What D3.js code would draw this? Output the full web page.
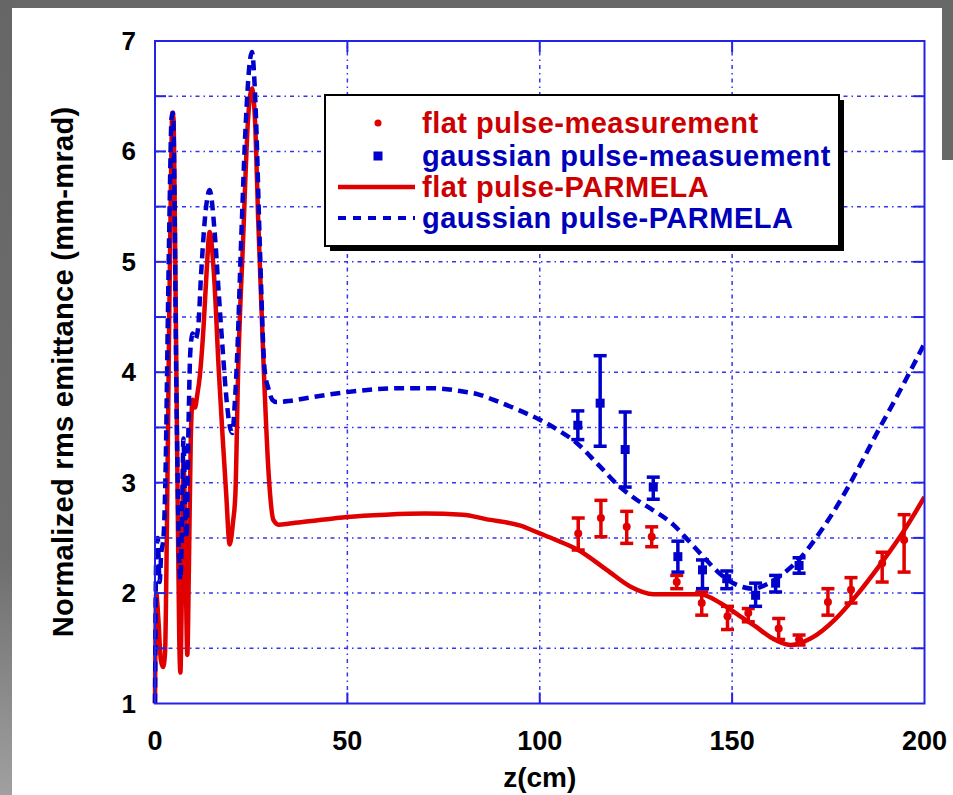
<!DOCTYPE html>
<html>
<head>
<meta charset="utf-8">
<script src="https://cdn.jsdelivr.net/npm/d3@7"></script>
<style>
  html, body { margin: 0; padding: 0; background: #686868; }
  svg { display: block; font-family: 'Liberation Sans', Arial, sans-serif; font-weight: bold; }
</style>
</head>
<body>
<svg width="953" height="795"></svg>
<script>
// PARMELA simulation, [z (cm), emittance]
const flatParmela = [
  [0, 1.0], [0.3, 2.0], [0.9, 1.75], [1.5, 1.4], [2.1, 1.33], [2.6, 1.45], [3.1, 2.6], [3.6, 4.2],
  [4.1, 5.6], [4.5, 6.35], [4.8, 6.3], [5.1, 5.6], [5.5, 4.2], [5.9, 2.8], [6.3, 1.6], [6.6, 1.28],
  [6.9, 1.8], [7.4, 3.2], [7.9, 2.4], [8.4, 1.44], [8.8, 2.2], [9.3, 3.4], [9.8, 3.75], [10.4, 3.68],
  [11.0, 3.8], [11.6, 3.95], [12.6, 4.4], [13.4, 4.9], [14.2, 5.27], [15.3, 4.9], [16.6, 4.0], [17.6, 3.4],
  [18.5, 2.9], [19.4, 2.44], [20.3, 2.65], [20.9, 2.9], [21.6, 4.0], [22.9, 5.2], [24.2, 6.3], [25.2, 6.57],
  [26.1, 6.2], [26.8, 5.4], [28.3, 4.0], [29.5, 3.1], [30.8, 2.66], [32.1, 2.62], [35, 2.63], [40, 2.65],
  [50, 2.69], [60, 2.71], [70, 2.72], [80, 2.71], [86, 2.67], [95, 2.61], [100, 2.54], [105, 2.47],
  [110, 2.39], [117.4, 2.21], [123.5, 2.06], [129.5, 1.99], [141.7, 1.99], [146.9, 1.91], [152.1, 1.79], [156, 1.7],
  [160, 1.6], [165.2, 1.53], [170.5, 1.59], [176.7, 1.76], [182.8, 2.0], [188.1, 2.24], [194.2, 2.54], [200, 2.87]
]
const gaussParmela = [
  [0, 1.0], [0.3, 2.3], [0.7, 2.5], [1.2, 2.1], [1.6, 2.35], [2.2, 2.5], [2.8, 3.2], [3.3, 4.4],
  [3.8, 5.5], [4.3, 6.3], [4.7, 6.35], [5.1, 5.5], [5.5, 4.0], [5.9, 3.0], [6.3, 2.3], [6.6, 2.12],
  [7.0, 2.6], [7.4, 3.4], [7.8, 2.8], [8.2, 2.5], [8.7, 3.5], [9.2, 4.2], [9.8, 4.35], [10.5, 4.3],
  [11.2, 4.4], [12.0, 4.9], [13.0, 5.4], [14.2, 5.65], [15.5, 5.27], [16.6, 4.7], [17.6, 4.2], [18.6, 3.75],
  [19.5, 3.5], [20.1, 3.45], [20.7, 3.7], [21.3, 4.1], [22.4, 5.2], [23.6, 6.26], [24.6, 6.8], [25.2, 6.9],
  [25.9, 6.6], [26.3, 6.26], [27.2, 5.2], [28.5, 4.02], [29.5, 3.85], [30.5, 3.75], [31.6, 3.73], [35, 3.74],
  [40, 3.77], [49.8, 3.82], [57, 3.845], [64, 3.855], [72, 3.855], [79.3, 3.83], [84, 3.8], [88, 3.75],
  [95, 3.65], [100, 3.57], [104.6, 3.48], [109.6, 3.36], [115, 3.17], [120.9, 2.96], [125, 2.85], [129.5, 2.75],
  [134.7, 2.62], [138, 2.5], [141.7, 2.36], [147.7, 2.15], [151.5, 2.07], [155.5, 2.04], [159, 2.08], [163.4, 2.18],
  [167.8, 2.32], [173.6, 2.59], [178, 2.83], [182.8, 3.13], [188.1, 3.48], [192.5, 3.76], [196, 3.99], [200, 4.26]
]
// measurements, [z, value, low, high]
const flatMeas = [
  [110.0, 2.54, 2.39, 2.68], [115.9, 2.68, 2.51, 2.84], [122.6, 2.60, 2.45, 2.74], [129.1, 2.51, 2.42, 2.60],
  [135.6, 2.10, 2.04, 2.16], [142.1, 1.91, 1.80, 2.01], [148.8, 1.79, 1.67, 1.88], [154.2, 1.82, 1.74, 1.86],
  [162.1, 1.68, 1.58, 1.77], [167.4, 1.58, 1.53, 1.62], [174.9, 1.92, 1.80, 2.04], [180.9, 2.03, 1.91, 2.14],
  [189.0, 2.27, 2.10, 2.37], [194.7, 2.48, 2.19, 2.71]
]
const gaussMeas = [
  [109.9, 3.52, 3.39, 3.65], [115.7, 3.72, 3.33, 4.15], [122.2, 3.30, 2.96, 3.64], [129.5, 2.96, 2.85, 3.05],
  [135.9, 2.33, 2.19, 2.47], [142.3, 2.21, 2.04, 2.30], [148.6, 2.13, 2.04, 2.20], [156.1, 1.98, 1.88, 2.09],
  [161.3, 2.09, 2.01, 2.16], [167.4, 2.25, 2.18, 2.32]
]
const xTicks = [0, 50, 100, 150, 200]
const yTicks = [1, 2, 3, 4, 5, 6, 7]
const yGrid = [1.5, 2, 2.5, 3, 3.5, 4, 4.5, 5, 5.5, 6, 6.5]
const legendLabels = ['flat pulse-measurement', 'gaussian pulse-measuement', 'flat pulse-PARMELA', 'gaussian pulse-PARMELA']

const RED = '#e00000'
const BLUE = '#0000cc'
const FRAME = '#2323e6'

const dim = { width: 953, height: 795, margin: { top: 41, right: 28.5, bottom: 91.5, left: 155 } }
const svg = d3.select('svg')

drawBackground(svg)
const scales = setScales(dim)
drawGrid(svg, scales)
drawLines(svg, scales)
drawMeasurements(svg, scales, flatMeas, RED, 'dot')
drawMeasurements(svg, scales, gaussMeas, BLUE, 'square')
drawFrame(svg, scales)
drawLabels(svg, scales)
drawLegend(svg)


function setScales ({ width, height, margin }) {
  return {
    x: d3.scaleLinear().domain([0, 200]).range([margin.left, width - margin.right]),
    y: d3.scaleLinear().domain([1, 7]).range([height - margin.bottom, margin.top])
  }
}


function drawBackground (svg) {
  const grad = svg.append('defs').append('linearGradient')
    .attr('id', 'sideGrad').attr('x1', 0).attr('y1', 0).attr('x2', 0).attr('y2', 1)
  grad.append('stop').attr('offset', '0%').attr('stop-color', '#666')
  grad.append('stop').attr('offset', '70%').attr('stop-color', '#6e6e6e')
  grad.append('stop').attr('offset', '100%').attr('stop-color', '#a0a0a0')
  svg.append('rect').attr('width', 953).attr('height', 795).attr('fill', '#686868')
  svg.append('rect').attr('width', 12).attr('height', 795).attr('fill', 'url(#sideGrad)')
  svg.append('rect').attr('x', 12).attr('y', 8).attr('width', 930).attr('height', 787).attr('fill', '#fff')
  svg.append('rect').attr('x', 942).attr('y', 160).attr('width', 11).attr('height', 635).attr('fill', '#fff')
}


function drawGrid (svg, { x, y }) {
  const g = svg.append('g')
    .attr('stroke', '#3434f0')
    .attr('stroke-width', 1.5)
    .attr('stroke-dasharray', '4,4,1.5,4')
  g.selectAll('.hgrid').data(yGrid).join('line')
    .attr('x1', x(0)).attr('x2', x(200))
    .attr('y1', (d) => y(d)).attr('y2', (d) => y(d))
  g.selectAll('.vgrid').data([50, 100, 150]).join('line')
    .attr('y1', y(1)).attr('y2', y(7))
    .attr('x1', (d) => x(d)).attr('x2', (d) => x(d))
}


function drawLines (svg, { x, y }) {
  svg.append('clipPath').attr('id', 'plotClip')
    .append('rect')
    .attr('x', x(0) - 3).attr('y', y(7))
    .attr('width', x(200) - x(0) + 3).attr('height', y(1) - y(7))
  const line = d3.line()
    .curve(d3.curveMonotoneX)
    .x((d) => x(d[0]))
    .y((d) => y(d[1]))
  const g = svg.append('g').attr('clip-path', 'url(#plotClip)').attr('fill', 'none')
  g.append('path').datum(flatParmela)
    .attr('d', line)
    .attr('stroke', RED).attr('stroke-width', 4.5)
    .attr('stroke-linejoin', 'round')
  g.append('path').datum(gaussParmela)
    .attr('d', line)
    .attr('stroke', BLUE).attr('stroke-width', 4.5)
    .attr('stroke-dasharray', '10,6')
}


function drawMeasurements (svg, { x, y }, data, color, shape) {
  const g = svg.append('g').attr('stroke', color).attr('fill', color)
  const cap = 6.5
  const bars = g.selectAll('g').data(data).join('g')
  bars.append('line')
    .attr('x1', (d) => x(d[0])).attr('x2', (d) => x(d[0]))
    .attr('y1', (d) => y(d[2])).attr('y2', (d) => y(d[3]))
    .attr('stroke-width', 3.5)
  bars.append('line') // bottom cap
    .attr('x1', (d) => x(d[0]) - cap).attr('x2', (d) => x(d[0]) + cap)
    .attr('y1', (d) => y(d[2])).attr('y2', (d) => y(d[2]))
    .attr('stroke-width', 3.5)
  bars.append('line') // top cap
    .attr('x1', (d) => x(d[0]) - cap).attr('x2', (d) => x(d[0]) + cap)
    .attr('y1', (d) => y(d[3])).attr('y2', (d) => y(d[3]))
    .attr('stroke-width', 3.5)
  if (shape === 'square') {
    bars.append('rect')
      .attr('x', (d) => x(d[0]) - 4.5).attr('y', (d) => y(d[1]) - 4.5)
      .attr('width', 9).attr('height', 9).attr('stroke', 'none')
  } else {
    bars.append('circle')
      .attr('cx', (d) => x(d[0])).attr('cy', (d) => y(d[1]))
      .attr('r', 4).attr('stroke', 'none')
  }
}


function drawFrame (svg, { x, y }) {
  const g = svg.append('g').attr('stroke', FRAME).attr('stroke-width', 2).attr('fill', 'none')
  g.append('rect')
    .attr('x', x(0)).attr('y', y(7))
    .attr('width', x(200) - x(0)).attr('height', y(1) - y(7))
  const tick = 11
  yGrid.forEach((v) => {
    g.append('line').attr('x1', x(0)).attr('x2', x(0) + tick).attr('y1', y(v)).attr('y2', y(v))
    g.append('line').attr('x1', x(200)).attr('x2', x(200) - tick).attr('y1', y(v)).attr('y2', y(v))
  })
  ;[50, 100, 150].forEach((v) => {
    g.append('line').attr('x1', x(v)).attr('x2', x(v)).attr('y1', y(1)).attr('y2', y(1) - tick)
    g.append('line').attr('x1', x(v)).attr('x2', x(v)).attr('y1', y(7)).attr('y2', y(7) + tick)
  })
}


function drawLabels (svg, { x, y }) {
  svg.append('g').selectAll('text').data(yTicks).join('text')
    .attr('x', 136).attr('y', (d) => y(d) + 9)
    .attr('text-anchor', 'end')
    .attr('font-size', 26)
    .text((d) => d)
  svg.append('g').selectAll('text').data(xTicks).join('text')
    .attr('x', (d) => x(d)).attr('y', 750)
    .attr('text-anchor', 'middle')
    .attr('font-size', 27)
    .text((d) => d)
  svg.append('text')
    .attr('x', (x(0) + x(200)) / 2).attr('y', 787)
    .attr('text-anchor', 'middle')
    .attr('font-size', 28)
    .text('z(cm)')
  svg.append('text')
    .attr('transform', 'translate(73,372) rotate(-90)')
    .attr('text-anchor', 'middle')
    .attr('font-size', 29)
    .attr('letter-spacing', 0.3)
    .text('Normalized rms emittance (mm-mrad)')
}


function drawLegend (svg) {
  const box = { x: 325, y: 95, w: 514, h: 151 }
  svg.append('rect') // shadow
    .attr('x', box.x + 5).attr('y', box.y + 5)
    .attr('width', box.w).attr('height', box.h)
    .attr('fill', '#000')
  svg.append('rect')
    .attr('x', box.x).attr('y', box.y)
    .attr('width', box.w).attr('height', box.h)
    .attr('fill', '#fff').attr('stroke', '#000').attr('stroke-width', 2)

  const rows = [123, 156, 187, 218]
  const colors = [RED, BLUE, RED, BLUE]
  const textColors = ['#cc0000', '#0000bb', '#cc0000', '#0000bb']
  svg.append('circle').attr('cx', 378).attr('cy', rows[0]).attr('r', 3.5).attr('fill', colors[0])
  svg.append('rect').attr('x', 373.5).attr('y', rows[1] - 4.5).attr('width', 9).attr('height', 9).attr('fill', colors[1])
  svg.append('line').attr('x1', 338).attr('x2', 415).attr('y1', rows[2]).attr('y2', rows[2])
    .attr('stroke', colors[2]).attr('stroke-width', 4.5)
  svg.append('line').attr('x1', 338).attr('x2', 415).attr('y1', rows[3]).attr('y2', rows[3])
    .attr('stroke', colors[3]).attr('stroke-width', 4).attr('stroke-dasharray', '8,7')

  svg.append('g').selectAll('text').data(legendLabels).join('text')
    .attr('x', 422).attr('y', (d, i) => rows[i] + 10)
    .attr('font-size', 29)
    .attr('letter-spacing', 0.5)
    .attr('fill', (d, i) => textColors[i])
    .text((d) => d)
}
</script>
</body>
</html>
